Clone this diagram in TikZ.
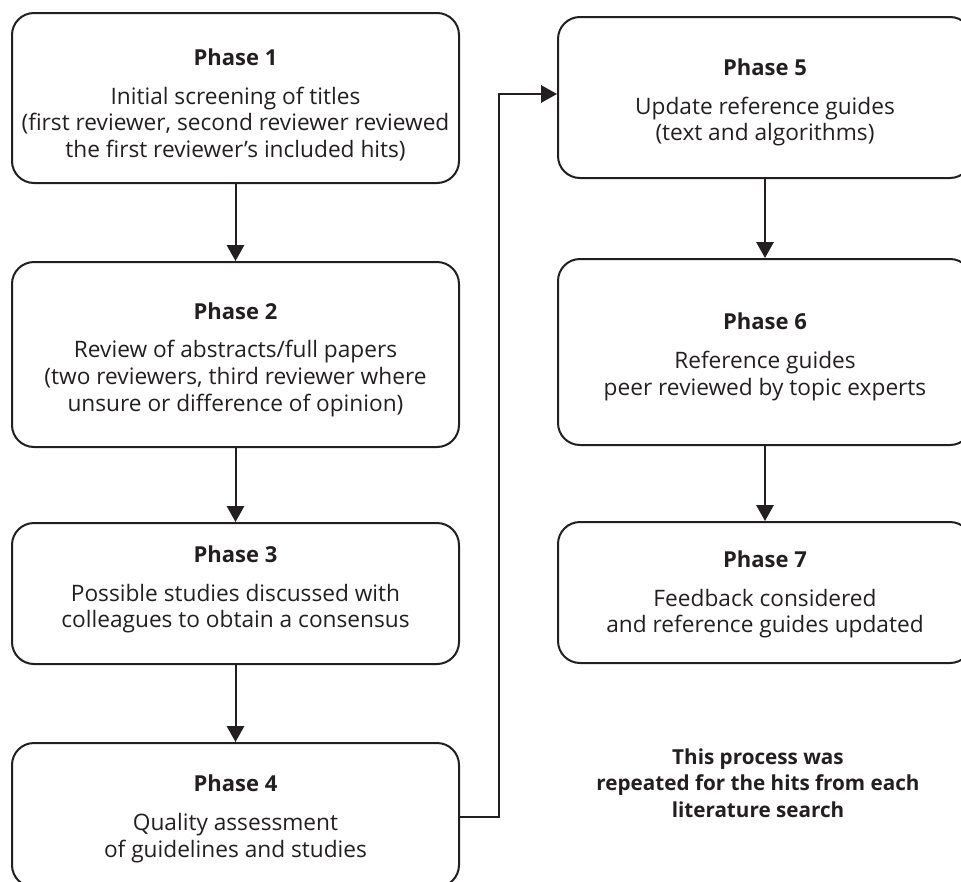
\documentclass[tikz,border=0pt]{standalone}
\usepackage{fontspec}
\setmainfont{Open Sans}
\usetikzlibrary{arrows.meta}
\definecolor{ink}{HTML}{231F20}
\newcommand{\ph}[1]{{\fontsize{16.5pt}{20pt}\selectfont\bfseries #1}}
\begin{document}
\begin{tikzpicture}[x=0.75pt,y=-0.75pt,
  box/.style={draw=ink, line width=1.5pt, rounded corners=16.5pt, inner sep=0pt},
  lbox/.style={box, minimum width=335.25pt},
  rbox/.style={box, minimum width=310.5pt},
  txt/.style={align=center, text=ink, font=\fontsize{17pt}{20pt}\selectfont, inner sep=0pt},
  arr/.style={draw=ink, line width=1.5pt, -{Triangle[length=12pt,width=13pt]}},
  note/.style={text=ink, align=center, font=\fontsize{15.5pt}{20pt}\selectfont\bfseries},
]
\useasboundingbox (0,0) rectangle (961,882);
% boxes
\node[lbox, minimum height=127.5pt] (b1) at (235.5,98) {};
\node[lbox, minimum height=138.75pt] (b2) at (235.5,354.5) {};
\node[lbox, minimum height=105.75pt] (b3) at (235.5,593.5) {};
\node[lbox, minimum height=108pt] (b4) at (235.5,815) {};
\node[rbox, minimum height=120.75pt] (b5) at (765,97.5) {};
\node[rbox, minimum height=139.5pt] (b6) at (765,352) {};
\node[rbox, minimum height=105.75pt] (b7) at (765,592.5) {};
% texts
\node[txt] (t1) at ([yshift=-5.25pt]b1.center)
  {\ph{Phase 1}\\[9pt] Initial screening of titles\\ (first reviewer, second reviewer reviewed\\ the first reviewer’s included hits)};
\node[txt] (t2) at ([yshift=-3.75pt]b2.center)
  {\ph{Phase 2}\\[9pt] Review of abstracts/full papers\\ (two reviewers, third reviewer where\\ unsure or difference of opinion)};
\node[txt] (t3) at ([yshift=3pt]b3.center)
  {\ph{Phase 3}\\[9pt] Possible studies discussed with\\ colleagues to obtain a consensus};
\node[txt] (t4) at ([yshift=-3pt]b4.center)
  {\ph{Phase 4}\\[9pt] Quality assessment\\ of guidelines and studies};
\node[txt] (t5) at ([yshift=-3.75pt]b5.center)
  {\ph{Phase 5}\\[9pt] Update reference guides\\ (text and algorithms)};
\node[txt] (t6) at ([yshift=-3.75pt]b6.center)
  {\ph{Phase 6}\\[9pt] Reference guides\\ peer reviewed by topic experts};
\node[txt] (t7) at ([yshift=-1.5pt]b7.center)
  {\ph{Phase 7}\\[9pt] Feedback considered\\ and reference guides updated};
\node[note] (n) at (758,783) {This process was\\ repeated for the hits from each\\ literature search};
% connectors
\draw[arr] (b1) -- (b2);
\draw[arr] (b2) -- (b3);
\draw[arr] (b3) -- (b4);
\draw[arr] (b5) -- (b6);
\draw[arr] (b6) -- (b7);
\coordinate (turn) at (499,817);
\coordinate (top) at (499,94);
\draw[arr] (b4.east |- turn) -- (turn) -- (top) -- (b5.west |- top);
\end{tikzpicture}
\end{document}
